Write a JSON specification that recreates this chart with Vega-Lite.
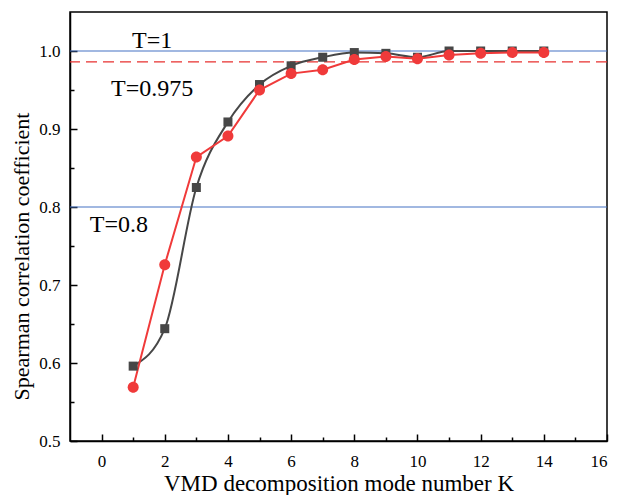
{
  "$schema": "https://vega.github.io/schema/vega-lite/v6.json",
  "width": 537,
  "height": 429,
  "autosize": "none",
  "padding": {"left": 70, "top": 12, "right": 18, "bottom": 54},
  "background": "white",
  "config": {
    "font": "Liberation Serif",
    "view": {"stroke": "black", "strokeWidth": 1.5},
    "axis": {"grid": false, "domainColor": "black", "domainWidth": 1.5, "tickColor": "black", "tickWidth": 1.5, "labelColor": "black", "titleColor": "black", "labelFont": "Liberation Serif", "titleFont": "Liberation Serif", "titleFontWeight": "normal", "labelFontSize": 17},
    "legend": {"labelFont": "Liberation Serif", "labelFontSize": 20, "labelColor": "black"}
  },
  "datasets": {
    "series": [
      {"K": 1, "value": 0.596, "series": "Simulation signal"},
      {"K": 2, "value": 0.644, "series": "Simulation signal"},
      {"K": 3, "value": 0.825, "series": "Simulation signal"},
      {"K": 4, "value": 0.909, "series": "Simulation signal"},
      {"K": 5, "value": 0.957, "series": "Simulation signal"},
      {"K": 6, "value": 0.981, "series": "Simulation signal"},
      {"K": 7, "value": 0.992, "series": "Simulation signal"},
      {"K": 8, "value": 0.998, "series": "Simulation signal"},
      {"K": 9, "value": 0.997, "series": "Simulation signal"},
      {"K": 10, "value": 0.992, "series": "Simulation signal"},
      {"K": 11, "value": 1.0, "series": "Simulation signal"},
      {"K": 12, "value": 1.0, "series": "Simulation signal"},
      {"K": 13, "value": 1.0, "series": "Simulation signal"},
      {"K": 14, "value": 1.0, "series": "Simulation signal"},
      {"K": 1, "value": 0.569, "series": "PD signal"},
      {"K": 2, "value": 0.726, "series": "PD signal"},
      {"K": 3, "value": 0.864, "series": "PD signal"},
      {"K": 4, "value": 0.891, "series": "PD signal"},
      {"K": 5, "value": 0.950, "series": "PD signal"},
      {"K": 6, "value": 0.971, "series": "PD signal"},
      {"K": 7, "value": 0.976, "series": "PD signal"},
      {"K": 8, "value": 0.989, "series": "PD signal"},
      {"K": 9, "value": 0.993, "series": "PD signal"},
      {"K": 10, "value": 0.990, "series": "PD signal"},
      {"K": 11, "value": 0.995, "series": "PD signal"},
      {"K": 12, "value": 0.997, "series": "PD signal"},
      {"K": 13, "value": 0.998, "series": "PD signal"},
      {"K": 14, "value": 0.998, "series": "PD signal"}
    ],
    "blueRules": [{"value": 1.0}, {"value": 0.8}],
    "redRule": [{"value": 0.986}],
    "labels": [
      {"K": 1.6, "value": 1.013, "label": "T=1"},
      {"K": 1.6, "value": 0.951, "label": "T=0.975"},
      {"K": 0.55, "value": 0.777, "label": "T=0.8"}
    ]
  },
  "resolve": {"axis": {"x": "independent", "y": "independent"}},
  "layer": [
    {
      "data": {"name": "blueRules"},
      "mark": {"type": "rule", "color": "#4472C4", "strokeWidth": 1.2},
      "encoding": {
        "y": {"field": "value", "type": "quantitative",
          "scale": {"domain": [0.5, 1.05], "nice": false, "zero": false},
          "axis": {
            "orient": "left",
            "title": "Spearman correlation coefficient", "titleFontSize": 22, "titlePadding": 5,
            "titleY": 244,
            "values": [0.5, 0.6, 0.7, 0.8, 0.9, 1.0],
            "format": ".1f", "ticks": false,
            "labelFont": "Liberation Serif", "labelFontSize": 17,
            "labelPadding": 10
          }
        }
      }
    },
    {
      "data": {"name": "redRule"},
      "mark": {"type": "rule", "color": "#E8302F", "strokeWidth": 1.4, "strokeDash": [11, 6]},
      "encoding": {
        "y": {"field": "value", "type": "quantitative",
          "axis": {
            "orient": "right", "offset": -537, "title": null, "labels": false, "domain": false,
            "values": [0.5, 0.55, 0.6, 0.65, 0.7, 0.75, 0.8, 0.85, 0.9, 0.95, 1.0],
            "tickSize": {"condition": {"test": "round(datum.value * 100) % 10 === 0", "value": 7}, "value": 4}
          }
        }
      }
    },
    {
      "data": {"name": "labels"},
      "mark": {"type": "text", "font": "Liberation Serif", "fontSize": 24, "color": "black", "align": "center", "baseline": "middle"},
      "encoding": {
        "x": {"field": "K", "type": "quantitative", "axis": null},
        "y": {"field": "value", "type": "quantitative", "axis": null},
        "text": {"field": "label"}
      }
    },
    {
      "data": {"name": "series"},
      "transform": [{"filter": "datum.series === 'Simulation signal'"}],
      "mark": {"type": "line", "interpolate": "monotone", "strokeWidth": 2},
      "encoding": {
        "x": {"field": "K", "type": "quantitative",
          "scale": {"domain": [-1, 16], "nice": false, "zero": false},
          "axis": {
            "orient": "bottom",
            "title": "VMD decomposition mode number K", "titleFontSize": 23, "titlePadding": 3,
            "values": [0, 2, 4, 6, 8, 10, 12, 14, 16], "ticks": false,
            "labelFont": "Liberation Serif", "labelFontSize": 17,
            "labelPadding": 12
          }
        },
        "y": {"field": "value", "type": "quantitative", "axis": null},
        "color": {"field": "series", "type": "nominal", "legend": null,
          "scale": {"domain": ["Simulation signal", "PD signal"], "range": ["#474747", "#F03A3A"]}}
      }
    },
    {
      "data": {"name": "series"},
      "transform": [{"filter": "datum.series === 'PD signal'"}],
      "mark": {"type": "line", "strokeWidth": 2},
      "encoding": {
        "x": {"field": "K", "type": "quantitative",
          "axis": {
            "orient": "top", "offset": -429, "title": null, "labels": false, "domain": false,
            "values": [0, 1, 2, 3, 4, 5, 6, 7, 8, 9, 10, 11, 12, 13, 14, 15, 16],
            "tickSize": {"condition": {"test": "datum.value % 2 === 0", "value": 7}, "value": 4}
          }
        },
        "y": {"field": "value", "type": "quantitative", "axis": null},
        "color": {"field": "series", "type": "nominal", "legend": null}
      }
    },
    {
      "data": {"name": "series"},
      "mark": {"type": "point", "filled": true, "opacity": 1, "size": 121, "strokeWidth": 0},
      "encoding": {
        "x": {"field": "K", "type": "quantitative", "axis": null},
        "y": {"field": "value", "type": "quantitative", "axis": null},
        "shape": {"field": "series", "type": "nominal", "legend": null,
          "scale": {"domain": ["Simulation signal", "PD signal"],
            "range": ["M-0.82,-0.82H0.82V0.82H-0.82Z", "M1,0A1,1 0 1,1 -1,0A1,1 0 1,1 1,0Z"]}},
        "fill": {"field": "series", "type": "nominal",
          "scale": {"domain": ["Simulation signal", "PD signal"], "range": ["#474747", "#F03A3A"]},
          "legend": {"title": null, "orient": "none", "legendX": 242, "legendY": 100,
            "symbolSize": 110, "labelOffset": 40,
            "strokeColor": "#888888", "fillColor": "white", "padding": 6, "rowPadding": 5}}
      }
    }
  ]
}
